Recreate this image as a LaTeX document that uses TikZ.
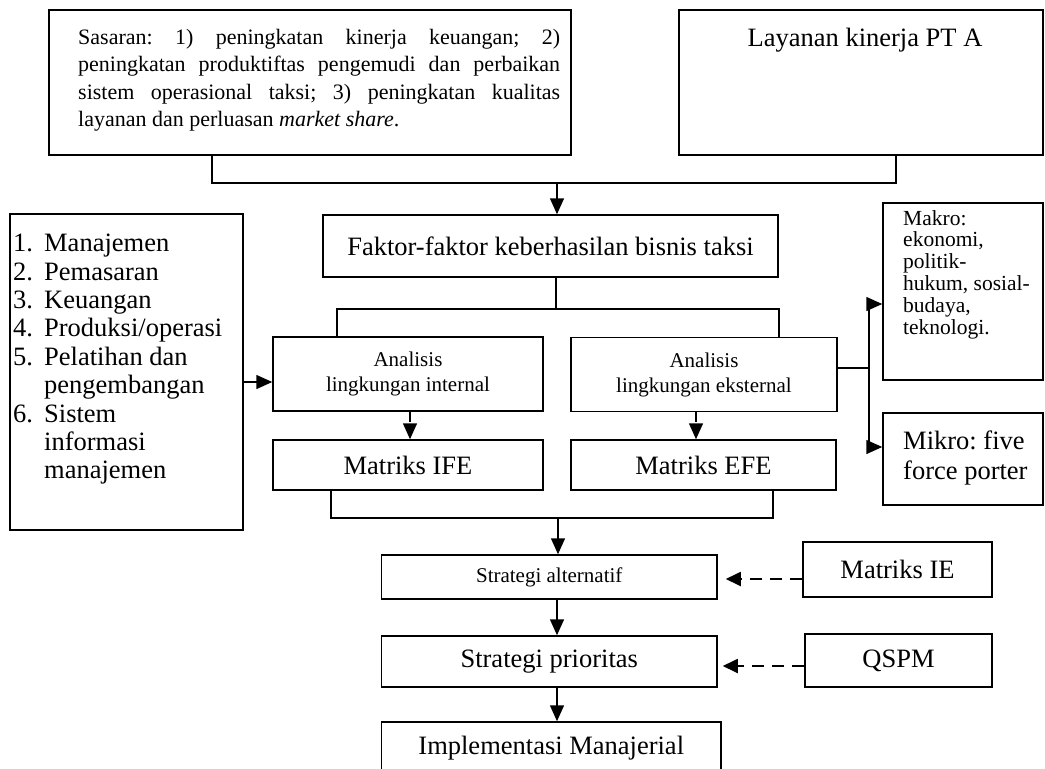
\documentclass[tikz,border=0pt]{standalone}
\usepackage{fontspec}
\setmainfont{Liberation Serif}
\usetikzlibrary{arrows.meta}
\newcommand\fbig{\fontsize{26.5}{30}\selectfont}
\newcommand\flst{\fontsize{26.5}{28.4}\selectfont}
\newcommand\fsml{\fontsize{21}{25}\selectfont}
\newcommand\fsas{\fontsize{22}{27.5}\selectfont}
\newcommand\fmak{\fontsize{21.5}{21.8}\selectfont}
\begin{document}
\frenchspacing
\begin{tikzpicture}[x=1pt,y=-1pt,
  box/.style={draw, line width=1.5pt, rectangle, inner sep=0pt},
  conn/.style={line width=1.5pt},
  arr/.style={line width=1.5pt, -{Triangle[length=16pt,width=14pt]}},
  darr/.style={line width=1.5pt, dash pattern=on 10pt off 5pt, -{Triangle[length=16pt,width=14pt]}},
  harr/.style={line width=1.8pt, dash pattern=on 12pt off 8pt, -{Triangle[length=15pt,width=14pt]}}]
\useasboundingbox (0,0) rectangle (1045,769);
\clip (0,0) rectangle (1045,769);

% boxes
\node[box, minimum width=522pt, minimum height=145pt] (sas) at (310,82.5) {};
\node[anchor=north west, text width=482pt, align=justify, inner sep=0pt, font=\fsas] (sastext) at (78,29)
 {\frenchspacing\tolerance=10000\hyphenpenalty=10000 Sasaran: 1) peningkatan kinerja keuangan; 2)\linebreak peningkatan produktiftas pengemudi dan perbaikan\linebreak sistem operasional taksi; 3) peningkatan kualitas\linebreak layanan dan perluasan \textit{market share}.};

\node[box, minimum width=364pt, minimum height=145pt] (lay) at (861,82.5) {};
\node[anchor=base, font=\fbig, inner sep=0pt] (laytext) at (865,46) {Layanan kinerja PT A};

\node[box, minimum width=455pt, minimum height=62pt, font=\fbig] (fak) at (550.5,246) {Faktor-faktor keberhasilan bisnis taksi};

\node[box, minimum width=233pt, minimum height=316pt] (list) at (126.5,372) {};
\node[anchor=north west, align=left, inner sep=0pt, font=\flst] (listtext) at (13,234)
 {\makebox[31pt][l]{1.}Manajemen\\
  \makebox[31pt][l]{2.}Pemasaran\\
  \makebox[31pt][l]{3.}Keuangan\\
  \makebox[31pt][l]{4.}Produksi/operasi\\
  \makebox[31pt][l]{5.}Pelatihan dan\\
  \hspace*{31pt}pengembangan\\
  \makebox[31pt][l]{6.}Sistem\\
  \hspace*{31pt}informasi\\
  \hspace*{31pt}manajemen};

\node[box, minimum width=270pt, minimum height=74pt, align=center, font=\fsml] (int) at (408,374) {Analisis\\lingkungan internal};
\node[box, minimum width=266pt, minimum height=74pt, align=center, font=\fsml] (eks) at (704,374.5) {Analisis\\lingkungan eksternal};

\node[box, minimum width=270pt, minimum height=50pt, font=\fbig] (ife) at (408,465) {Matriks IFE};
\node[box, minimum width=265pt, minimum height=50pt, font=\fbig] (efe) at (703.5,465) {Matriks EFE};

\node[box, minimum width=160pt, minimum height=177pt] (mak) at (963,291.5) {};
\node[anchor=north west, align=left, inner sep=0pt, font=\fmak] (maktext) at (903,210)
 {Makro:\\ekonomi,\\politik-\\hukum, sosial-\\budaya,\\teknologi.};

\node[box, minimum width=160pt, minimum height=92pt] (mik) at (963,459) {};
\node[anchor=north west, align=left, inner sep=0pt, font=\fbig] (miktext) at (903,431)
 {Mikro: five\\force porter};

\node[box, minimum width=335.5pt, minimum height=44pt, font=\fsml] (alt) at (549.25,577) {Strategi alternatif};
\node[box, minimum width=335.5pt, minimum height=51pt, font=\fbig] (pri) at (549.25,661.5) {Strategi prioritas};
\node[box, minimum width=339.5pt, minimum height=52pt, font=\fbig] (imp) at (551.25,748) {Implementasi Manajerial};

\node[box, minimum width=189pt, minimum height=55pt, font=\fbig] (ie) at (897.5,569.5) {Matriks IE};
\node[box, minimum width=187pt, minimum height=53pt, font=\fbig] (qspm) at (898.5,660.5) {QSPM};

% junction coordinates
\coordinate (j1) at (212,183);
\coordinate (j2) at (896,183);
\coordinate (ja) at (557,183);
\coordinate (jb) at (556,309);
\coordinate (jl) at (337,309);
\coordinate (jr) at (779,309);
\coordinate (jli) at (243,382);
\coordinate (jdi) at (410,0);
\coordinate (jde) at (696,0);
\coordinate (jm) at (869,368);
\coordinate (jmk) at (869,304);
\coordinate (jmi) at (869,447);
\coordinate (jc1) at (331,518);
\coordinate (jc2) at (773,518);
\coordinate (jc) at (558,518);
\coordinate (jv) at (557,0);
\coordinate (jie) at (0,579);
\coordinate (jq) at (0,666);

% connectors
\draw[conn] (sas.south -| j1) -- (j1) -- (j2) -- (lay.south -| j2);
\draw[arr] (ja) -- (ja |- fak.north);
\draw[conn] (fak.south -| jb) -- (jb);
\draw[conn] (int.north -| jl) -- (jl) -- (jr) -- (eks.north -| jr);
\draw[arr] (list.east |- jli) -- (int.west |- jli);
\draw[darr] (int.south -| jdi) -- (ife.north -| jdi);
\draw[darr] (eks.south -| jde) -- (efe.north -| jde);
\draw[conn] (eks.east |- jm) -- (jm);
\draw[arr] (jmi) -- (jmk) -- (mak.west |- jmk);
\draw[arr] (jmk) -- (jmi) -- (mik.west |- jmi);
\draw[conn] (ife.south -| jc1) -- (jc1) -- (jc2) -- (efe.south -| jc2);
\draw[arr] (jc) -- (jc |- alt.north);
\draw[arr] (alt.south -| jv) -- (pri.north -| jv);
\draw[arr] (pri.south -| jv) -- (imp.north -| jv);
\draw[harr, shorten >=8pt] (ie.west |- jie) -- (alt.east |- jie);
\draw[harr, shorten >=5pt] (qspm.west |- jq) -- (pri.east |- jq);
\end{tikzpicture}
\end{document}
